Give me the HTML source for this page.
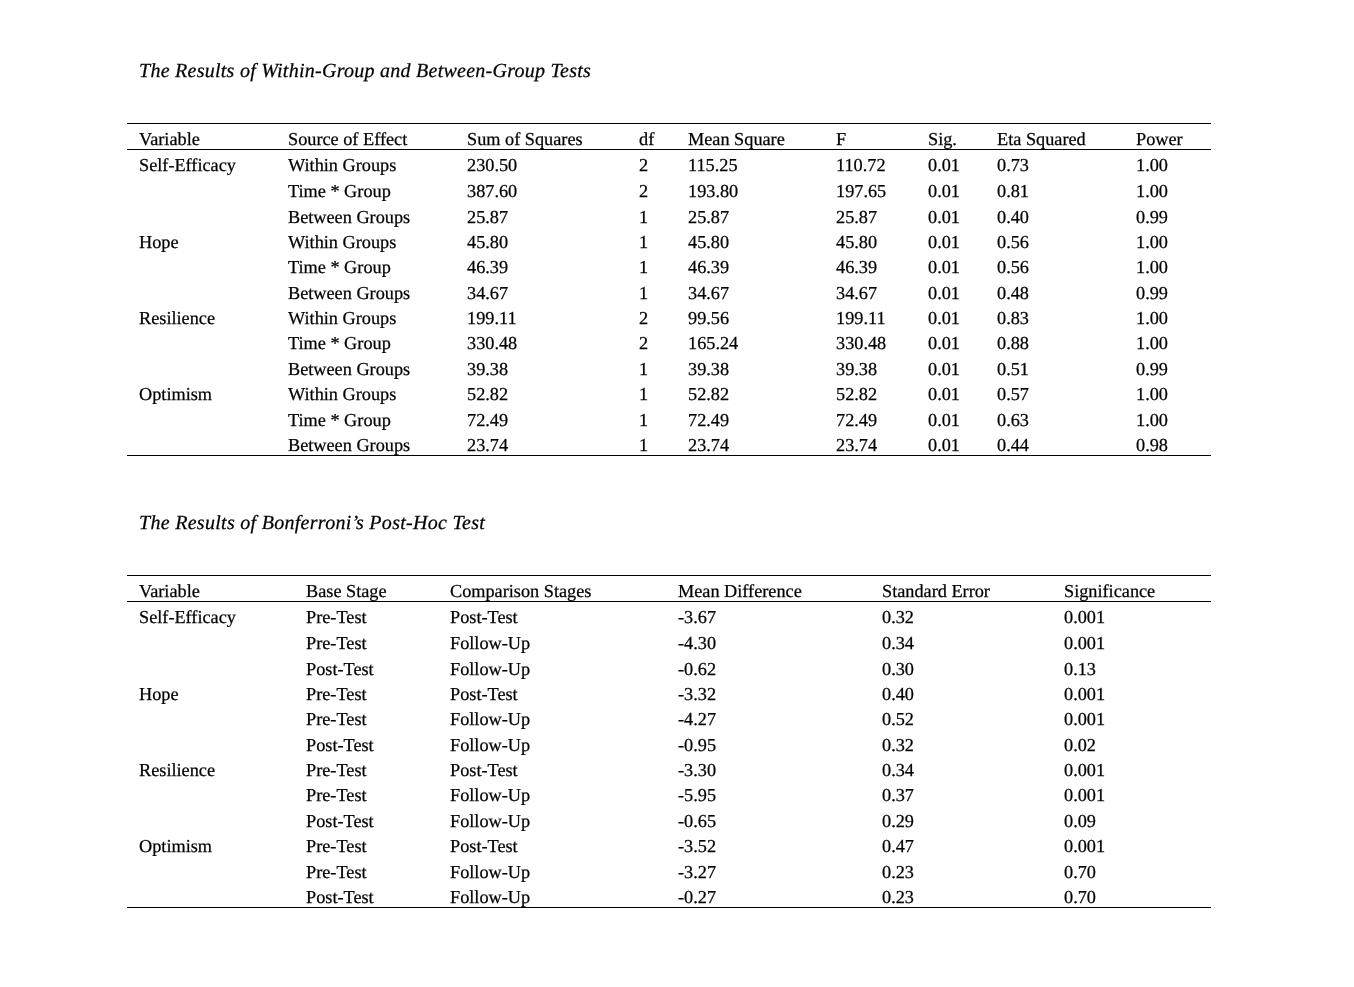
<!DOCTYPE html>
<html><head><meta charset="utf-8"><style>
html,body{margin:0;padding:0;background:#fff;}
body{width:1354px;height:987px;position:relative;overflow:hidden;font-family:"Liberation Serif",serif;color:#000;}
#w{position:absolute;left:0;top:0;width:1354px;height:987px;will-change:transform;text-rendering:geometricPrecision;-webkit-text-stroke:0.25px #000;}
.t{position:absolute;white-space:pre;font-size:18.25px;line-height:1;}
.h{position:absolute;white-space:pre;line-height:1;font-style:italic;}
.r{position:absolute;left:127px;width:1084px;height:1px;background:#000;}
</style></head><body><div id="w">

<div class="h" style="left:139px;top:61.0px;font-size:20.0px;letter-spacing:0.26px">The Results of Within-Group and Between-Group Tests</div>
<div class="h" style="left:139px;top:513.0px;font-size:20.0px;letter-spacing:0.29px">The Results of Bonferroni’s Post-Hoc Test</div>
<div class="r" style="top:123px"></div>
<div class="r" style="top:149px"></div>
<div class="r" style="top:455px"></div>
<div class="r" style="top:575px"></div>
<div class="r" style="top:601px"></div>
<div class="r" style="top:907px"></div>
<div class="t" style="left:139px;top:130px">Variable</div>
<div class="t" style="left:288px;top:130px">Source of Effect</div>
<div class="t" style="left:467px;top:130px">Sum of Squares</div>
<div class="t" style="left:639px;top:130px">df</div>
<div class="t" style="left:688px;top:130px">Mean Square</div>
<div class="t" style="left:836px;top:130px">F</div>
<div class="t" style="left:928px;top:130px">Sig.</div>
<div class="t" style="left:997px;top:130px">Eta Squared</div>
<div class="t" style="left:1136px;top:130px">Power</div>
<div class="t" style="left:139px;top:156px">Self-Efficacy</div>
<div class="t" style="left:288px;top:156px">Within Groups</div>
<div class="t" style="left:467px;top:156px">230.50</div>
<div class="t" style="left:639px;top:156px">2</div>
<div class="t" style="left:688px;top:156px">115.25</div>
<div class="t" style="left:836px;top:156px">110.72</div>
<div class="t" style="left:928px;top:156px">0.01</div>
<div class="t" style="left:997px;top:156px">0.73</div>
<div class="t" style="left:1136px;top:156px">1.00</div>
<div class="t" style="left:288px;top:182px">Time * Group</div>
<div class="t" style="left:467px;top:182px">387.60</div>
<div class="t" style="left:639px;top:182px">2</div>
<div class="t" style="left:688px;top:182px">193.80</div>
<div class="t" style="left:836px;top:182px">197.65</div>
<div class="t" style="left:928px;top:182px">0.01</div>
<div class="t" style="left:997px;top:182px">0.81</div>
<div class="t" style="left:1136px;top:182px">1.00</div>
<div class="t" style="left:288px;top:208px">Between Groups</div>
<div class="t" style="left:467px;top:208px">25.87</div>
<div class="t" style="left:639px;top:208px">1</div>
<div class="t" style="left:688px;top:208px">25.87</div>
<div class="t" style="left:836px;top:208px">25.87</div>
<div class="t" style="left:928px;top:208px">0.01</div>
<div class="t" style="left:997px;top:208px">0.40</div>
<div class="t" style="left:1136px;top:208px">0.99</div>
<div class="t" style="left:139px;top:233px">Hope</div>
<div class="t" style="left:288px;top:233px">Within Groups</div>
<div class="t" style="left:467px;top:233px">45.80</div>
<div class="t" style="left:639px;top:233px">1</div>
<div class="t" style="left:688px;top:233px">45.80</div>
<div class="t" style="left:836px;top:233px">45.80</div>
<div class="t" style="left:928px;top:233px">0.01</div>
<div class="t" style="left:997px;top:233px">0.56</div>
<div class="t" style="left:1136px;top:233px">1.00</div>
<div class="t" style="left:288px;top:258px">Time * Group</div>
<div class="t" style="left:467px;top:258px">46.39</div>
<div class="t" style="left:639px;top:258px">1</div>
<div class="t" style="left:688px;top:258px">46.39</div>
<div class="t" style="left:836px;top:258px">46.39</div>
<div class="t" style="left:928px;top:258px">0.01</div>
<div class="t" style="left:997px;top:258px">0.56</div>
<div class="t" style="left:1136px;top:258px">1.00</div>
<div class="t" style="left:288px;top:284px">Between Groups</div>
<div class="t" style="left:467px;top:284px">34.67</div>
<div class="t" style="left:639px;top:284px">1</div>
<div class="t" style="left:688px;top:284px">34.67</div>
<div class="t" style="left:836px;top:284px">34.67</div>
<div class="t" style="left:928px;top:284px">0.01</div>
<div class="t" style="left:997px;top:284px">0.48</div>
<div class="t" style="left:1136px;top:284px">0.99</div>
<div class="t" style="left:139px;top:309px">Resilience</div>
<div class="t" style="left:288px;top:309px">Within Groups</div>
<div class="t" style="left:467px;top:309px">199.11</div>
<div class="t" style="left:639px;top:309px">2</div>
<div class="t" style="left:688px;top:309px">99.56</div>
<div class="t" style="left:836px;top:309px">199.11</div>
<div class="t" style="left:928px;top:309px">0.01</div>
<div class="t" style="left:997px;top:309px">0.83</div>
<div class="t" style="left:1136px;top:309px">1.00</div>
<div class="t" style="left:288px;top:334px">Time * Group</div>
<div class="t" style="left:467px;top:334px">330.48</div>
<div class="t" style="left:639px;top:334px">2</div>
<div class="t" style="left:688px;top:334px">165.24</div>
<div class="t" style="left:836px;top:334px">330.48</div>
<div class="t" style="left:928px;top:334px">0.01</div>
<div class="t" style="left:997px;top:334px">0.88</div>
<div class="t" style="left:1136px;top:334px">1.00</div>
<div class="t" style="left:288px;top:360px">Between Groups</div>
<div class="t" style="left:467px;top:360px">39.38</div>
<div class="t" style="left:639px;top:360px">1</div>
<div class="t" style="left:688px;top:360px">39.38</div>
<div class="t" style="left:836px;top:360px">39.38</div>
<div class="t" style="left:928px;top:360px">0.01</div>
<div class="t" style="left:997px;top:360px">0.51</div>
<div class="t" style="left:1136px;top:360px">0.99</div>
<div class="t" style="left:139px;top:385px">Optimism</div>
<div class="t" style="left:288px;top:385px">Within Groups</div>
<div class="t" style="left:467px;top:385px">52.82</div>
<div class="t" style="left:639px;top:385px">1</div>
<div class="t" style="left:688px;top:385px">52.82</div>
<div class="t" style="left:836px;top:385px">52.82</div>
<div class="t" style="left:928px;top:385px">0.01</div>
<div class="t" style="left:997px;top:385px">0.57</div>
<div class="t" style="left:1136px;top:385px">1.00</div>
<div class="t" style="left:288px;top:411px">Time * Group</div>
<div class="t" style="left:467px;top:411px">72.49</div>
<div class="t" style="left:639px;top:411px">1</div>
<div class="t" style="left:688px;top:411px">72.49</div>
<div class="t" style="left:836px;top:411px">72.49</div>
<div class="t" style="left:928px;top:411px">0.01</div>
<div class="t" style="left:997px;top:411px">0.63</div>
<div class="t" style="left:1136px;top:411px">1.00</div>
<div class="t" style="left:288px;top:436px">Between Groups</div>
<div class="t" style="left:467px;top:436px">23.74</div>
<div class="t" style="left:639px;top:436px">1</div>
<div class="t" style="left:688px;top:436px">23.74</div>
<div class="t" style="left:836px;top:436px">23.74</div>
<div class="t" style="left:928px;top:436px">0.01</div>
<div class="t" style="left:997px;top:436px">0.44</div>
<div class="t" style="left:1136px;top:436px">0.98</div>
<div class="t" style="left:139px;top:582px">Variable</div>
<div class="t" style="left:306px;top:582px">Base Stage</div>
<div class="t" style="left:450px;top:582px">Comparison Stages</div>
<div class="t" style="left:678px;top:582px">Mean Difference</div>
<div class="t" style="left:882px;top:582px">Standard Error</div>
<div class="t" style="left:1064px;top:582px">Significance</div>
<div class="t" style="left:139px;top:608px">Self-Efficacy</div>
<div class="t" style="left:306px;top:608px">Pre-Test</div>
<div class="t" style="left:450px;top:608px">Post-Test</div>
<div class="t" style="left:678px;top:608px">-3.67</div>
<div class="t" style="left:882px;top:608px">0.32</div>
<div class="t" style="left:1064px;top:608px">0.001</div>
<div class="t" style="left:306px;top:634px">Pre-Test</div>
<div class="t" style="left:450px;top:634px">Follow-Up</div>
<div class="t" style="left:678px;top:634px">-4.30</div>
<div class="t" style="left:882px;top:634px">0.34</div>
<div class="t" style="left:1064px;top:634px">0.001</div>
<div class="t" style="left:306px;top:660px">Post-Test</div>
<div class="t" style="left:450px;top:660px">Follow-Up</div>
<div class="t" style="left:678px;top:660px">-0.62</div>
<div class="t" style="left:882px;top:660px">0.30</div>
<div class="t" style="left:1064px;top:660px">0.13</div>
<div class="t" style="left:139px;top:685px">Hope</div>
<div class="t" style="left:306px;top:685px">Pre-Test</div>
<div class="t" style="left:450px;top:685px">Post-Test</div>
<div class="t" style="left:678px;top:685px">-3.32</div>
<div class="t" style="left:882px;top:685px">0.40</div>
<div class="t" style="left:1064px;top:685px">0.001</div>
<div class="t" style="left:306px;top:710px">Pre-Test</div>
<div class="t" style="left:450px;top:710px">Follow-Up</div>
<div class="t" style="left:678px;top:710px">-4.27</div>
<div class="t" style="left:882px;top:710px">0.52</div>
<div class="t" style="left:1064px;top:710px">0.001</div>
<div class="t" style="left:306px;top:736px">Post-Test</div>
<div class="t" style="left:450px;top:736px">Follow-Up</div>
<div class="t" style="left:678px;top:736px">-0.95</div>
<div class="t" style="left:882px;top:736px">0.32</div>
<div class="t" style="left:1064px;top:736px">0.02</div>
<div class="t" style="left:139px;top:761px">Resilience</div>
<div class="t" style="left:306px;top:761px">Pre-Test</div>
<div class="t" style="left:450px;top:761px">Post-Test</div>
<div class="t" style="left:678px;top:761px">-3.30</div>
<div class="t" style="left:882px;top:761px">0.34</div>
<div class="t" style="left:1064px;top:761px">0.001</div>
<div class="t" style="left:306px;top:786px">Pre-Test</div>
<div class="t" style="left:450px;top:786px">Follow-Up</div>
<div class="t" style="left:678px;top:786px">-5.95</div>
<div class="t" style="left:882px;top:786px">0.37</div>
<div class="t" style="left:1064px;top:786px">0.001</div>
<div class="t" style="left:306px;top:812px">Post-Test</div>
<div class="t" style="left:450px;top:812px">Follow-Up</div>
<div class="t" style="left:678px;top:812px">-0.65</div>
<div class="t" style="left:882px;top:812px">0.29</div>
<div class="t" style="left:1064px;top:812px">0.09</div>
<div class="t" style="left:139px;top:837px">Optimism</div>
<div class="t" style="left:306px;top:837px">Pre-Test</div>
<div class="t" style="left:450px;top:837px">Post-Test</div>
<div class="t" style="left:678px;top:837px">-3.52</div>
<div class="t" style="left:882px;top:837px">0.47</div>
<div class="t" style="left:1064px;top:837px">0.001</div>
<div class="t" style="left:306px;top:863px">Pre-Test</div>
<div class="t" style="left:450px;top:863px">Follow-Up</div>
<div class="t" style="left:678px;top:863px">-3.27</div>
<div class="t" style="left:882px;top:863px">0.23</div>
<div class="t" style="left:1064px;top:863px">0.70</div>
<div class="t" style="left:306px;top:888px">Post-Test</div>
<div class="t" style="left:450px;top:888px">Follow-Up</div>
<div class="t" style="left:678px;top:888px">-0.27</div>
<div class="t" style="left:882px;top:888px">0.23</div>
<div class="t" style="left:1064px;top:888px">0.70</div>
</div></body></html>
